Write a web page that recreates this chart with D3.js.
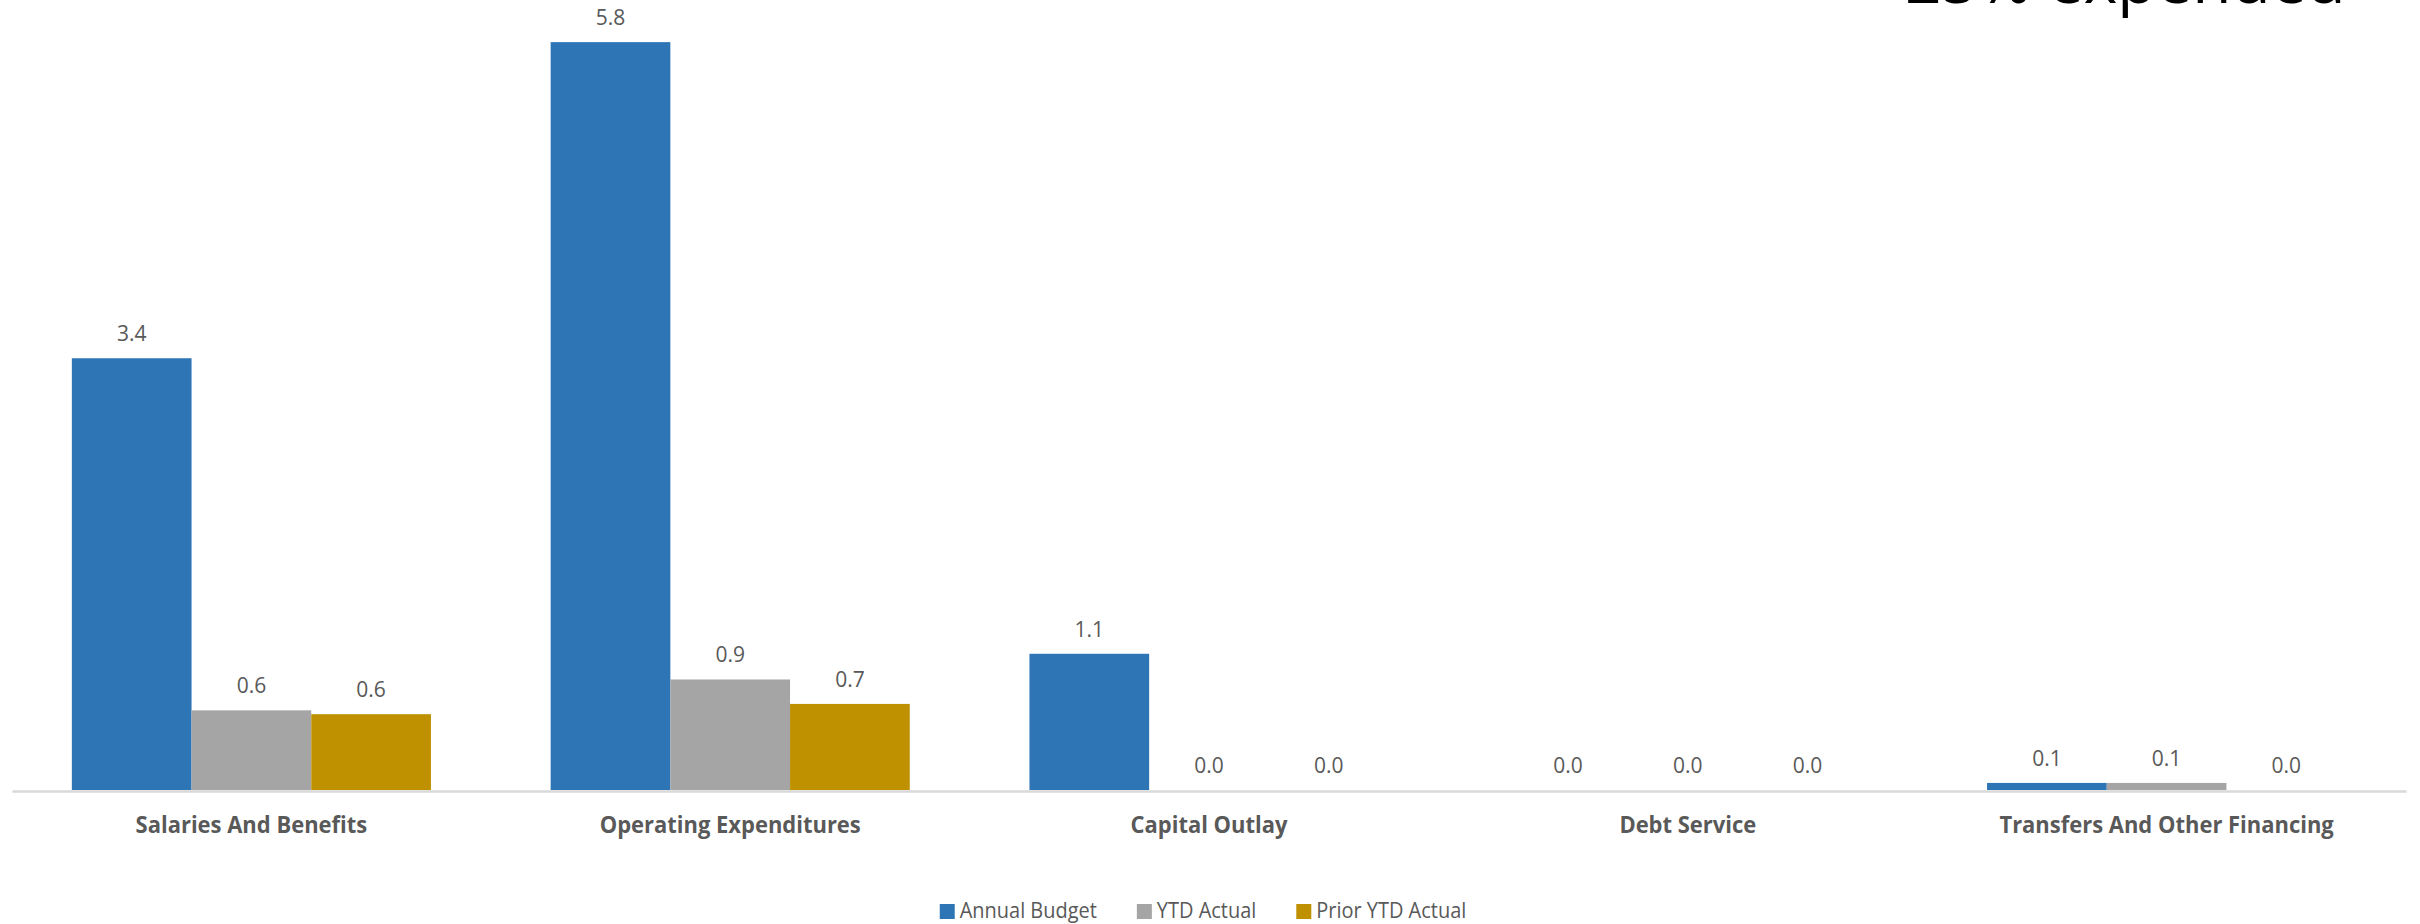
<!DOCTYPE html>
<html>
<head>
<meta charset="utf-8">
<script src="https://cdn.jsdelivr.net/npm/d3@7"></script>
<style>
  html, body { margin: 0; padding: 0; background: #ffffff; }
  svg { display: block; }
</style>
</head>
<body>
<div id="chart"></div>
<script>
// ---- data ----
const categories = ["Salaries And Benefits", "Operating Expenditures", "Capital Outlay", "Debt Service", "Transfers And Other Financing"];
const seriesNames = ["Annual Budget", "YTD Actual", "Prior YTD Actual"];
const annualBudget = [3.36, 5.82, 1.06, 0.0, 0.055];
const ytdActual = [0.62, 0.86, 0.0, 0.0, 0.055];
const priorYtdActual = [0.59, 0.67, 0.0, 0.0, 0.0];
const titleText = "25% expended";

// ---- layout ----
const W = 2420, H = 924;
const colors = ["#2E75B6", "#A5A5A5", "#BF9000"];
const seriesValues = [annualBudget, ytdActual, priorYtdActual];

const svg = d3.select("#chart").append("svg").attr("width", W).attr("height", H);
svg.append("rect").attr("width", W).attr("height", H).attr("fill", "#ffffff");

const x0 = d3.scaleBand().domain(categories).range([12, 2406]).paddingInner(0.25).paddingOuter(0.125);
const x1 = d3.scaleBand().domain(seriesNames).range([0, x0.bandwidth()]).padding(0);
const y = d3.scaleLinear().domain([0, 6]).range([790, 19]);

const fmt = d3.format(".1f");

const rows = categories.map((c, i) => ({ cat: c, vals: seriesNames.map((s, j) => ({ s, j, v: seriesValues[j][i] })) }));

const groups = svg.append("g").selectAll("g").data(rows).join("g")
  .attr("transform", d => `translate(${x0(d.cat)},0)`);

groups.selectAll("rect").data(d => d.vals).join("rect")
  .attr("x", d => x1(d.s))
  .attr("width", x1.bandwidth())
  .attr("y", d => y(d.v))
  .attr("height", d => y(0) - y(d.v))
  .attr("fill", d => colors[d.j]);

groups.selectAll("text.lbl").data(d => d.vals).join("text")
  .attr("class", "lbl")
  .attr("x", d => x1(d.s) + x1.bandwidth() / 2)
  .attr("y", d => y(d.v) - 17)
  .attr("text-anchor", "middle")
  .attr("font-family", "'Open Sans', 'Noto Sans', sans-serif")
  .attr("font-size", 21)
  .attr("fill", "#595959")
  .text(d => fmt(d.v));

// x axis (line only, category labels below)
const xAxis = d3.axisBottom(x0).tickSize(0).tickPadding(0);
const axisG = svg.append("g").attr("transform", "translate(0,791)").call(xAxis);
axisG.select(".domain").attr("stroke", "#D9D9D9").attr("stroke-width", 2.5);
axisG.selectAll(".tick text")
  .attr("y", 42)
  .attr("dy", 0)
  .attr("font-family", "'Open Sans', 'Noto Sans', sans-serif")
  .attr("font-weight", "bold")
  .attr("font-size", 24)
  .attr("fill", "#595959")
  .each(function () {
    const len = this.getComputedTextLength();
    d3.select(this).attr("textLength", len * 0.915).attr("lengthAdjust", "spacingAndGlyphs");
  });

// legend
const legend = svg.append("g");
const items = legend.selectAll("g").data(seriesNames).join("g");
items.append("rect").attr("width", 15).attr("height", 15).attr("y", 904).attr("fill", (d, i) => colors[i]);
items.append("text")
  .attr("x", 20)
  .attr("y", 918)
  .attr("font-family", "'Open Sans', 'Noto Sans', sans-serif")
  .attr("font-size", 21)
  .attr("fill", "#595959")
  .text(d => d)
  .each(function () {
    const len = this.getComputedTextLength();
    d3.select(this).attr("textLength", len * 0.95).attr("lengthAdjust", "spacingAndGlyphs");
  });
let cx = 0;
const offsets = [];
items.each(function () {
  const w = this.getBBox().width;
  offsets.push(cx);
  cx += w + 40;
});
const totalW = cx - 40;
const startX = 1203 - totalW / 2;
items.attr("transform", (d, i) => `translate(${startX + offsets[i]},0)`);

// title (partially cut off at top)
svg.append("text")
  .attr("x", 1905)
  .attr("y", 3)
  .attr("font-family", "'Open Sans', 'Noto Sans', sans-serif")
  .attr("font-size", 64)
  .attr("fill", "#000000")
  .text(titleText);
</script>
</body>
</html>
